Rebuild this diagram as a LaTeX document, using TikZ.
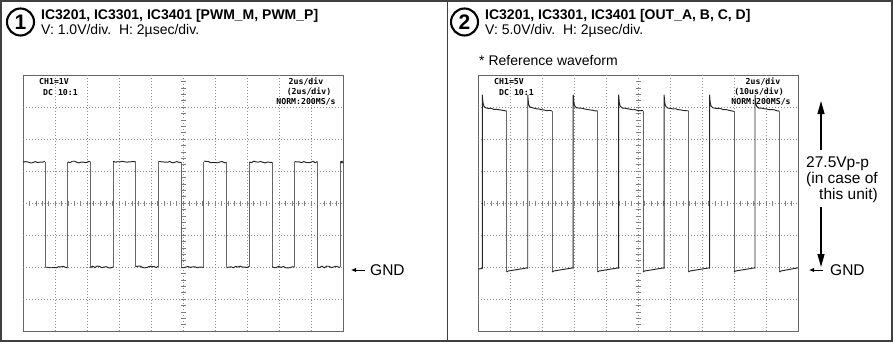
\documentclass[tikz,border=0pt]{standalone}
\usepackage{fontspec}
\setmainfont{Liberation Sans}
\newfontfamily\scopefont{DejaVu Sans Mono}
\usetikzlibrary{arrows.meta}
\tikzset{
  outerframe/.style={draw=black!75, line width=1.8pt},
  scopebox/.style={draw=black!60, line width=0.9pt},
  gridline/.style={draw=black!45, line width=0.6pt, dash pattern=on 0.7pt off 2.3pt},
  tickline/.style={draw=black!50, line width=0.6pt},
  trace/.style={draw=black!85, line width=0.95pt, line join=round},
  sigedge/.style={draw=black!60, line width=0.85pt},
  lbl/.style={font=\fontsize{15.5}{18}\selectfont, inner sep=0pt, anchor=base west},
  hdr/.style={font=\fontsize{14}{17}\selectfont, inner sep=0pt, anchor=base west},
  ttl/.style={font=\fontsize{14}{17}\selectfont\bfseries, inner sep=0pt, anchor=base west},
  scr/.style={font={\scopefont\bfseries\fontsize{8.2}{10}\selectfont}, inner sep=0pt},
  numcircle/.style={circle, draw, line width=2.1pt, minimum size=27pt, inner sep=0pt,
     font=\fontsize{21}{21}\selectfont\bfseries},
  bigarrow/.style={line width=1.2pt, -{Triangle[length=13pt,width=7pt]}},
  smallarrow/.style={line width=0.9pt, -{Latex[length=5pt,width=4.5pt]}}
}
\newcommand\oscgrid{%
  \draw[scopebox] (0,0) rectangle (320,256);
  \foreach \i in {1,...,9} {\draw[gridline] ({32*\i},0) -- ({32*\i},256);}
  \foreach \j in {1,...,7} {\draw[gridline] (0,{32*\j}) -- (320,{32*\j});}
  \foreach \t in {1,...,49} {\draw[tickline] ({6.4*\t},125.5) -- ({6.4*\t},130.5);}
  \foreach \t in {1,...,39} {\draw[tickline] (157.5,{6.4*\t}) -- (162.5,{6.4*\t});}
}
\begin{document}
\begin{tikzpicture}[x=1pt,y=-1pt]
\useasboundingbox (0,0) rectangle (893,345);
\pgfmathsetseed{7}
% outer frame and divider
\draw[outerframe] (1,1) rectangle (892,341);
\draw[outerframe] (447.5,1) -- (447.5,341);

% ---------- panel 1 ----------
\node[numcircle] (c1) at (20.5,22) {1};
\node[ttl] (t1) at (41,19.5) {IC3201, IC3301, IC3401 [PWM\_M, PWM\_P]};
\node[hdr] (v1) at (41,35) {V: 1.0V/div.\ \ H: 2µsec/div.};

\begin{scope}[shift={(23,75)}]
  \oscgrid
  \node[scr, anchor=base west] (s1ch) at (16,9.5) {CH1=1V};
  \node[scr, anchor=base west] (s1dc) at (20,20) {DC 10:1};
  \node[scr, anchor=base] (s1a) at (283,9.5) {2us/div};
  \node[scr, anchor=base] (s1b) at (286,19.5) {(2us/div)};
  \node[scr, anchor=base] (s1c) at (283,29.5) {NORM:200MS/s};
  \draw[trace] plot[domain=0:22, samples=10] (\x,{87+0.9*rand});
  \foreach \k in {0,...,6}{
    \pgfmathsetmacro\ff{22+45.4*\k}
    \pgfmathsetmacro\rr{44.7+45.4*\k}
    \pgfmathsetmacro\nf{min(\ff+45.4,320)}
    \draw[sigedge] (\ff,87) -- (\ff,192);
    \draw[trace] plot[domain=\ff:\rr, samples=11] (\x,{192+0.9*rand});
    \draw[sigedge] (\rr,192) -- (\rr,87);
    \draw[trace] plot[domain=\rr:\nf, samples=11] (\x,{87+0.9*rand});
  }
\end{scope}

\node[lbl, anchor=west] (gnd1) at (370,270) {GND};
\coordinate (g1a) at (365,270);
\coordinate (g1b) at (351,270);
\draw[smallarrow] (g1a) -- (g1b);

% ---------- panel 2 ----------
\node[numcircle] (c2) at (464.5,22) {2};
\node[ttl] (t2) at (485,19.5) {IC3201, IC3301, IC3401 [OUT\_A, B, C, D]};
\node[hdr] (v2) at (485,35) {V: 5.0V/div.\ \ H: 2µsec/div.};
\node[hdr] (refw) at (479,66) {* Reference waveform};

\begin{scope}[shift={(478,75)}]
  \oscgrid
  \node[scr, anchor=base west] (s2ch) at (16,9.5) {CH1=5V};
  \node[scr, anchor=base west] (s2dc) at (21,20) {DC 10:1};
  \node[scr, anchor=base] (s2a) at (285,9.5) {2us/div};
  \node[scr, anchor=base] (s2b) at (281,19.5) {(10us/div)};
  \node[scr, anchor=base] (s2c) at (283,29.5) {NORM:200MS/s};
  \draw[trace] (0,194) -- (4.3,193.5);
  \foreach \k in {0,...,6}{
    \pgfmathsetmacro\rr{4.3+45.45*\k}
    \pgfmathsetmacro\ff{28.7+45.45*\k}
    \pgfmathsetmacro\hs{\rr+3.5}
    \pgfmathsetmacro\nr{min(\rr+45.45,320)}
    \draw[trace] (\rr,193.5) -- (\rr,20) -- ({\rr+0.6},27)
      .. controls ({\rr+1.2},31.5) and ({\rr+2},32.3) .. (\hs,32.8)
      -- plot[domain=\hs:\ff, samples=9] (\x,{32.8+3.2*(\x-\hs)/(\ff-\hs)+0.4*rand});
    \draw[sigedge] (\ff,36) -- (\ff,197);
    \draw[trace] (\ff,197) -- ({\ff+1.5},196) -- (\nr,192.8);
  }
\end{scope}

\coordinate (upbot) at (821,150);
\coordinate (uptop) at (821,101);
\draw[bigarrow] (upbot) -- (uptop);
\coordinate (dntop) at (821,207);
\coordinate (dnbot) at (821,267);
\draw[bigarrow] (dntop) -- (dnbot);
\node[lbl] (vpp) at (806,167) {27.5Vp-p};
\node[lbl] (inc) at (806,183.5) {(in case of};
\node[lbl, anchor=base east] (thu) at (878,199) {this unit)};

\node[lbl, anchor=west] (gnd2) at (830,270) {GND};
\coordinate (g2a) at (823,270);
\coordinate (g2b) at (809,270);
\draw[smallarrow] (g2a) -- (g2b);
\end{tikzpicture}
\end{document}
